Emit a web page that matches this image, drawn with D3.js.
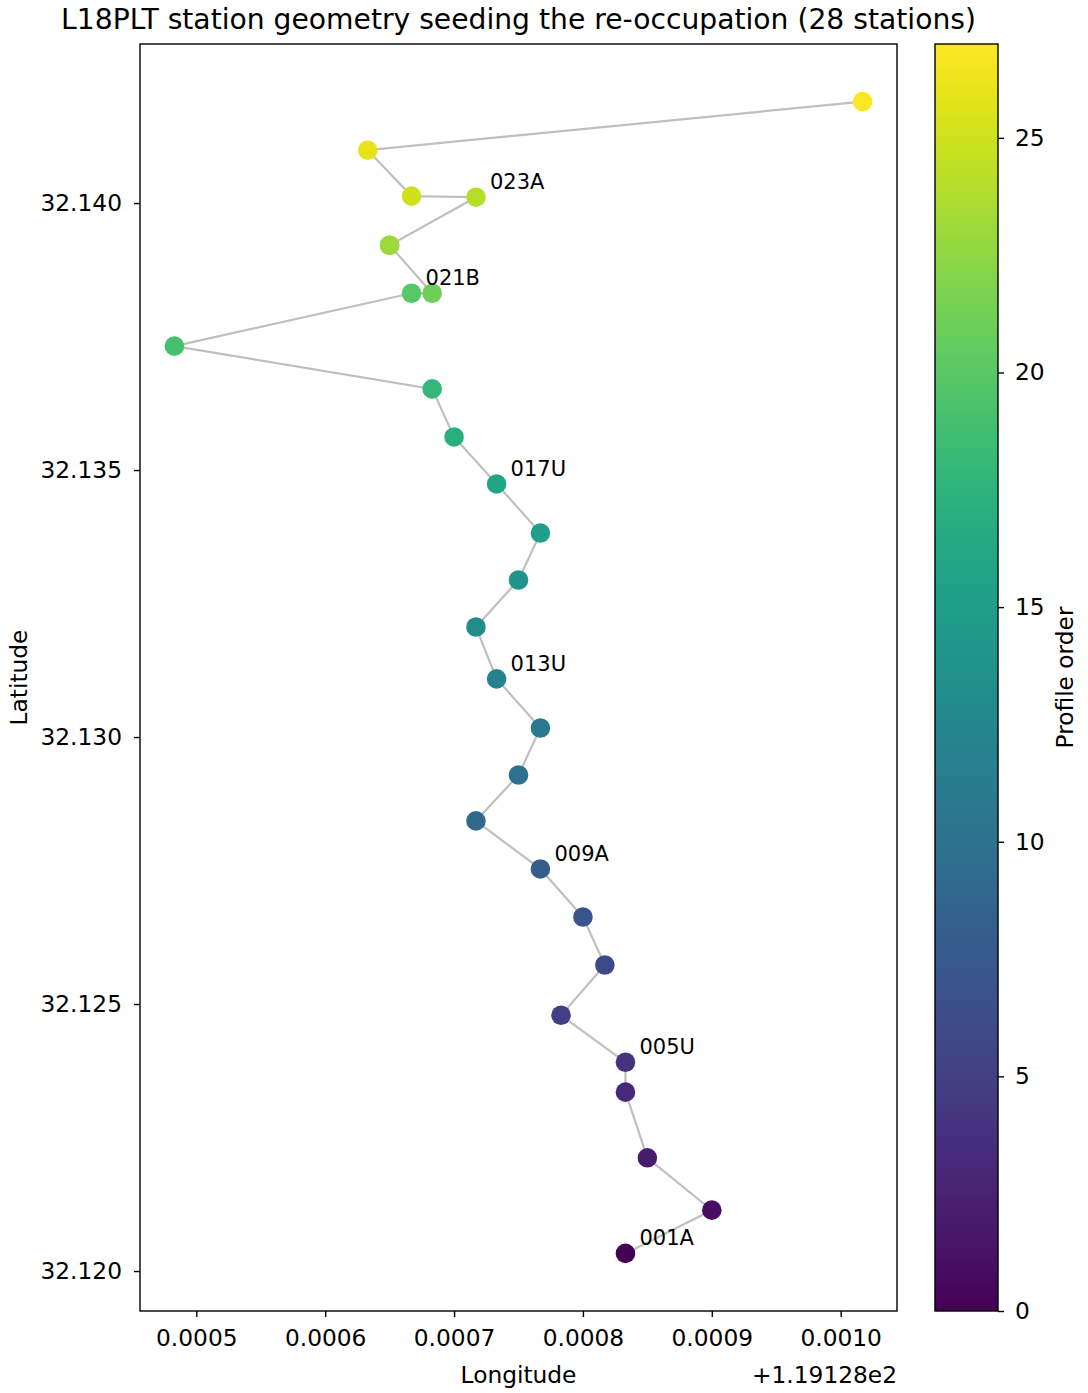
<!DOCTYPE html>
<html>
<head>
<meta charset="utf-8">
<script src="https://cdn.jsdelivr.net/npm/d3@7"></script>
<style>
  html, body { margin: 0; padding: 0; background: #fff; }
  svg { display: block; font-family: "DejaVu Sans", sans-serif; }
</style>
</head>
<body>
<svg id="chart" width="1088" height="1393"></svg>
<script>
// ---- data (profile order 0..27) ----
const lonOffset = 119.128;
const lon = [
  119.128833, 119.128900, 119.128850, 119.128833, 119.128833,
  119.128783, 119.128817, 119.128800, 119.128767, 119.128717,
  119.128750, 119.128767, 119.128733, 119.128717, 119.128750,
  119.128767, 119.128733, 119.128700, 119.128683, 119.128483,
  119.128667, 119.128683, 119.128650, 119.128650, 119.128717,
  119.128667, 119.128633, 119.129017
];
const lat = [
  32.12033, 32.12114, 32.12212, 32.12335, 32.12391,
  32.12479, 32.12573, 32.12663, 32.12753, 32.12843,
  32.12929, 32.13017, 32.13109, 32.13206, 32.13294,
  32.13382, 32.13474, 32.13562, 32.13652, 32.13732,
  32.13831, 32.13831, 32.13921, 32.13921, 32.14011,
  32.14013, 32.14099, 32.14190
];
const labelIndex = [0, 4, 8, 12, 16, 20, 24];
const labelText  = ["001A", "005U", "009A", "013U", "017U", "021B", "023A"];
const xTicks = [0.0005, 0.0006, 0.0007, 0.0008, 0.0009, 0.0010];
const yTicks = [32.120, 32.125, 32.130, 32.135, 32.140];
const cTicks = [0, 5, 10, 15, 20, 25];
const titleText = "L18PLT station geometry seeding the re-occupation (28 stations)";

// ---- layout ----
const svg = d3.select("#chart");
const L = 140, R = 897, T = 44, B = 1311;
const CB_L = 935, CB_R = 998;
const tickFont = 23.3;

const pad = (ext) => { const d = ext[1] - ext[0]; return [ext[0] - 0.05 * d, ext[1] + 0.05 * d]; };
const x = d3.scaleLinear().domain(pad(d3.extent(lon))).range([L, R]);
const y = d3.scaleLinear().domain(pad(d3.extent(lat))).range([B, T]);
const c = d3.scaleSequential(d3.interpolateViridis).domain([0, lon.length - 1]);
const idx = d3.range(lon.length);

// line
svg.append("path")
  .datum(idx)
  .attr("d", d3.line().x(i => x(lon[i])).y(i => y(lat[i])))
  .attr("fill", "none")
  .attr("stroke", "#bfbfbf")
  .attr("stroke-width", 2.2);

// points
svg.append("g").selectAll("circle").data(idx).join("circle")
  .attr("cx", i => x(lon[i]))
  .attr("cy", i => y(lat[i]))
  .attr("r", 9.8)
  .attr("fill", i => c(i));

// station labels
svg.append("g").selectAll("text").data(labelIndex).join("text")
  .attr("x", (i) => x(lon[i]) + 14)
  .attr("y", (i) => y(lat[i]) - 8)
  .attr("font-size", 21)
  .attr("fill", "#000")
  .text((i, k) => labelText[k]);

// frame
svg.append("rect")
  .attr("x", L).attr("y", T).attr("width", R - L).attr("height", B - T)
  .attr("fill", "none").attr("stroke", "#000").attr("stroke-width", 1.4);

// x axis
const xAxis = d3.axisBottom(x)
  .tickValues(xTicks.map(v => v + lonOffset))
  .tickFormat(v => (v - lonOffset).toFixed(4))
  .tickSizeOuter(0).tickSize(6).tickPadding(12);
const gx = svg.append("g").attr("transform", `translate(0,${B})`).call(xAxis);
gx.select(".domain").remove();
gx.selectAll("line").attr("stroke", "#000").attr("stroke-width", 1.4);
gx.selectAll("text").attr("font-size", tickFont).attr("font-family", "DejaVu Sans").attr("fill", "#000");

// y axis
const yAxis = d3.axisLeft(y)
  .tickValues(yTicks)
  .tickFormat(d3.format(".3f"))
  .tickSizeOuter(0).tickSize(6).tickPadding(12);
const gy = svg.append("g").attr("transform", `translate(${L},0)`).call(yAxis);
gy.select(".domain").remove();
gy.selectAll("line").attr("stroke", "#000").attr("stroke-width", 1.4);
gy.selectAll("text").attr("font-size", tickFont).attr("font-family", "DejaVu Sans").attr("fill", "#000");

// offset text
svg.append("text")
  .attr("x", R).attr("y", 1383)
  .attr("text-anchor", "end")
  .attr("font-size", tickFont)
  .text("+1.19128e2");

// axis labels
svg.append("text")
  .attr("x", (L + R) / 2).attr("y", 1383)
  .attr("text-anchor", "middle")
  .attr("font-size", tickFont)
  .text("Longitude");
svg.append("text")
  .attr("transform", `translate(27,${(T + B) / 2}) rotate(-90)`)
  .attr("text-anchor", "middle")
  .attr("font-size", tickFont)
  .text("Latitude");

// title
svg.append("text")
  .attr("x", (L + R) / 2).attr("y", 29)
  .attr("text-anchor", "middle")
  .attr("font-size", 28.2)
  .text(titleText);

// colorbar
const defs = svg.append("defs");
const grad = defs.append("linearGradient")
  .attr("id", "viridisGrad")
  .attr("x1", 0).attr("y1", 1).attr("x2", 0).attr("y2", 0);
d3.range(0, 1.0001, 0.02).forEach(t => {
  grad.append("stop").attr("offset", t).attr("stop-color", d3.interpolateViridis(t));
});
const cy = d3.scaleLinear().domain(c.domain()).range([B, T]);
svg.append("rect")
  .attr("x", CB_L).attr("y", T).attr("width", CB_R - CB_L).attr("height", B - T)
  .attr("fill", "url(#viridisGrad)")
  .attr("stroke", "#000").attr("stroke-width", 1.4);
const cAxis = d3.axisRight(cy).tickValues(cTicks).tickSizeOuter(0).tickSize(6).tickPadding(11);
const gc = svg.append("g").attr("transform", `translate(${CB_R},0)`).call(cAxis);
gc.select(".domain").remove();
gc.selectAll("line").attr("stroke", "#000").attr("stroke-width", 1.4);
gc.selectAll("text").attr("font-size", tickFont).attr("font-family", "DejaVu Sans").attr("fill", "#000");
svg.append("text")
  .attr("transform", `translate(1073,${(T + B) / 2}) rotate(-90)`)
  .attr("text-anchor", "middle")
  .attr("font-size", tickFont)
  .text("Profile order");
</script>
</body>
</html>
